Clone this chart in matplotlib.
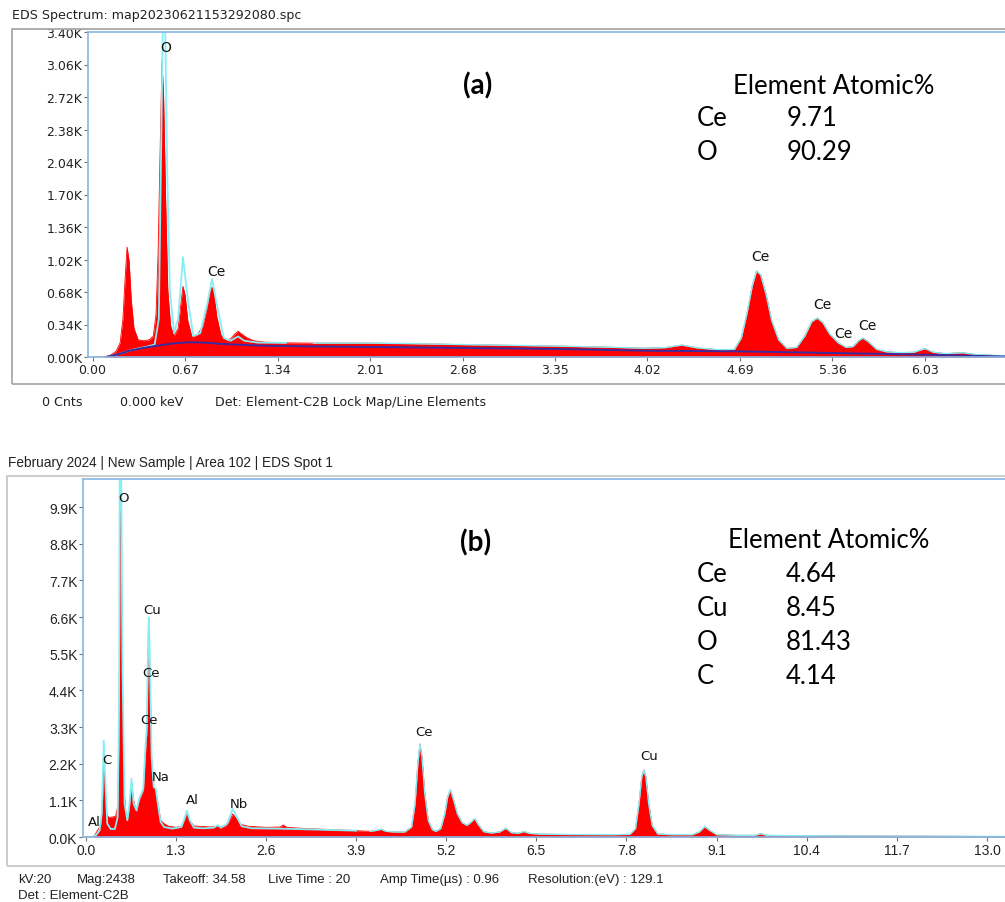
import matplotlib
matplotlib.use('Agg')
import matplotlib.pyplot as plt
from matplotlib.patches import Rectangle

# ---------- (a) spectre EDS : energie (keV) / coups ----------
energie_a = [0.00, 0.08, 0.13, 0.17, 0.20, 0.22, 0.235, 0.25, 0.265, 0.28, 0.30, 0.33,
             0.37, 0.41, 0.44, 0.46, 0.475, 0.49, 0.503, 0.515, 0.53, 0.545, 0.565,
             0.59, 0.62, 0.64, 0.655, 0.67, 0.69, 0.72, 0.76, 0.80, 0.83, 0.85, 0.866,
             0.88, 0.90, 0.93, 0.97, 1.00, 1.03, 1.054, 1.08, 1.12, 1.17, 1.25, 1.40,
             1.60, 1.80, 2.00, 2.30, 2.60, 2.90, 3.20, 3.50, 3.80, 4.00, 4.15, 4.27,
             4.38, 4.55, 4.65, 4.70, 4.74, 4.78, 4.81, 4.84, 4.88, 4.92, 4.97, 5.03,
             5.10, 5.16, 5.21, 5.25, 5.29, 5.34, 5.40, 5.46, 5.51, 5.55, 5.58, 5.62,
             5.68, 5.75, 5.85, 5.95, 6.03, 6.09, 6.18, 6.30, 6.40, 6.61]
coups_a = [0, 0, 20, 60, 150, 400, 800, 1150, 1000, 600, 300, 180,
           170, 180, 220, 450, 1100, 2200, 3100, 2700, 1600, 700, 330,
           220, 300, 560, 740, 650, 380, 210, 230, 330, 520, 700, 730,
           650, 420, 230, 170, 190, 240, 270, 240, 200, 170, 155, 148,
           145, 145, 145, 140, 132, 125, 118, 110, 100, 92, 98, 125,
           95, 75, 80, 200, 450, 750, 900, 860, 650, 380, 180, 90,
           100, 220, 370, 408, 360, 240, 150, 100, 110, 170, 199, 160,
           80, 55, 45, 50, 88, 50, 35, 45, 25, 12]
# ajustement (ligne cyan), partie basse energie
fit_e_a = [0.10, 0.20, 0.30, 0.40, 0.45, 0.48, 0.50, 0.51, 0.525, 0.54, 0.56, 0.59,
           0.62, 0.655, 0.69, 0.73, 0.78, 0.83, 0.866, 0.90, 0.95, 1.00, 1.054,
           1.10, 1.20, 1.40]
fit_c_a = [0, 35, 80, 110, 130, 400, 2500, 3600, 3600, 2000, 700, 250,
           400, 1046, 600, 220, 250, 550, 816, 550, 200, 170, 215,
           170, 150, 148]
# fond continu (ligne bleu fonce)
fond_e_a = [0.10, 0.20, 0.27, 0.35, 0.465, 0.60, 0.706, 0.82, 0.945, 1.235, 1.50,
            2.00, 2.68, 3.35, 4.02, 4.69, 5.36, 6.03, 6.61]
fond_c_a = [0, 35, 66, 90, 118, 145, 155, 150, 136, 118, 112,
            105, 95, 84, 66, 59, 42, 24, 5]
ticks_x_a = [0.00, 0.67, 1.34, 2.01, 2.68, 3.35, 4.02, 4.69, 5.36, 6.03]
ticks_y_a = [0, 340, 680, 1020, 1360, 1700, 2040, 2380, 2720, 3060, 3400]
pics_a = ["O", "Ce", "Ce", "Ce", "Ce", "Ce"]
pics_e_a = [0.53, 0.90, 4.84, 5.29, 5.44, 5.61]
pics_c_a = [3243, 900, 1056, 554, 251, 335]
elements_a = ["Ce", "O"]
atomique_a = ["9.71", "90.29"]

# ---------- (b) spectre EDS ----------
energie_b = [0.00, 0.10, 0.13, 0.17, 0.20, 0.22, 0.24, 0.26, 0.28, 0.30, 0.33, 0.38,
             0.43, 0.46, 0.48, 0.49, 0.50, 0.51, 0.52, 0.54, 0.57, 0.60, 0.63, 0.66,
             0.69, 0.73, 0.77, 0.80, 0.83, 0.86, 0.88, 0.90, 0.91, 0.93, 0.95, 0.98,
             1.01, 1.04, 1.08, 1.13, 1.20, 1.30, 1.38, 1.43, 1.46, 1.50, 1.56, 1.65,
             1.80, 1.90, 2.00, 2.06, 2.12, 2.17, 2.23, 2.35, 2.60, 2.80, 2.85, 2.90,
             3.20, 3.60, 3.90, 4.10, 4.20, 4.26, 4.33, 4.45, 4.60, 4.70, 4.75, 4.79,
             4.82, 4.85, 4.89, 4.94, 5.00, 5.05, 5.12, 5.18, 5.22, 5.26, 5.30, 5.36,
             5.43, 5.50, 5.56, 5.61, 5.66, 5.74, 5.85, 5.97, 6.06, 6.14, 6.24, 6.32,
             6.40, 6.55, 7.00, 7.60, 7.85, 7.93, 7.98, 8.02, 8.05, 8.08, 8.12, 8.17,
             8.25, 8.45, 8.75, 8.85, 8.93, 9.00, 9.10, 9.40, 9.65, 9.74, 9.82, 10.2,
             11.0, 12.0, 13.26]
coups_b = [0, 0, 60, 200, 300, 450, 1000, 2100, 1500, 700, 580, 600,
           620, 900, 3000, 6500, 9800, 8850, 6000, 2000, 800, 540, 900, 1640,
           1100, 740, 1100, 1250, 1390, 2500, 3100, 5500, 6140, 4500, 2300, 1500,
           1390, 1000, 500, 400, 320, 290, 320, 550, 740, 500, 330, 320,
           300, 320, 310, 450, 690, 560, 380, 320, 290, 300, 360, 290,
           250, 220, 190, 170, 200, 233, 170, 150, 150, 300, 1000, 2200,
           2790, 2400, 1300, 500, 220, 170, 250, 700, 1200, 1420, 1150, 700,
           430, 350, 450, 554, 380, 160, 120, 150, 262, 130, 110, 165,
           110, 85, 75, 70, 80, 250, 1000, 1800, 2010, 1800, 1000, 350,
           90, 70, 70, 150, 311, 200, 70, 50, 50, 97, 50, 40,
           30, 25, 15]
fit_e_b = [0.10, 0.15, 0.20, 0.23, 0.26, 0.28, 0.31, 0.36, 0.42, 0.46, 0.48, 0.49,
           0.51, 0.53, 0.56, 0.60, 0.63, 0.66, 0.69, 0.73, 0.77, 0.80, 0.83, 0.86,
           0.88, 0.90, 0.91, 0.93, 0.95, 0.98, 1.01, 1.04, 1.08, 1.13, 1.25, 1.38,
           1.43, 1.46, 1.50, 1.56, 1.70, 1.85, 1.90, 1.95, 2.04, 2.12, 2.18, 2.25,
           2.40, 2.80, 3.20, 3.90]
fit_c_b = [0, 60, 200, 700, 2890, 1800, 400, 240, 240, 600, 4000, 11500,
           11500, 5000, 1000, 500, 1000, 1750, 1000, 800, 1150, 1300, 1450, 2700,
           3300, 6000, 6590, 4800, 2400, 1500, 1450, 1000, 450, 300, 250, 300,
           600, 790, 500, 280, 260, 280, 360, 280, 400, 840, 600, 320,
           260, 250, 230, 190]
ticks_x_b = [0.0, 1.3, 2.6, 3.9, 5.2, 6.5, 7.8, 9.1, 10.4, 11.7, 13.0]
ticks_y_b = [0, 1100, 2200, 3300, 4400, 5500, 6600, 7700, 8800, 9900]
pics_b = ["Al", "C", "O", "Cu", "Ce", "Ce", "Na", "Al", "Nb", "Ce", "Cu"]
pics_e_b = [0.12, 0.31, 0.55, 0.96, 0.94, 0.91, 1.08, 1.53, 2.21, 4.88, 8.12]
pics_c_b = [470, 2310, 10190, 6820, 4940, 3520, 1820, 1110, 1010, 3160, 2460]
elements_b = ["Ce", "Cu", "O", "C"]
atomique_b = ["4.64", "8.45", "81.43", "4.14"]

ROUGE = '#ff0000'
CYAN = '#86eef4'
BLEU = '#3b2a9e'
SPINE = '#86b6e2'

fig = plt.figure(figsize=(10.05, 9.03), dpi=100)
W, H = 1005.0, 903.0


def px(x, y):
    """Conversion pixels image -> fraction figure"""
    return x / W, 1 - y / H


# cadres gris
fig.add_artist(Rectangle(px(12, 385), 1.0, 355 / H, transform=fig.transFigure,
                         fill=False, edgecolor='#a8a8a8', lw=1.3))
fig.add_artist(Rectangle(px(7, 867), 1.0, 390 / H, transform=fig.transFigure,
                         fill=False, edgecolor='#c8c8c8', lw=1.3))


def prepare_axe(ax, xlim, ylim, tx, ty, lx, ly, police, taille):
    ax.set_xlim(*xlim)
    ax.set_ylim(*ylim)
    ax.set_xticks(tx, lx)
    ax.set_yticks(ty, ly)
    for s in ('left', 'top', 'bottom'):
        ax.spines[s].set_color(SPINE)
        ax.spines[s].set_linewidth(1.2)
    ax.spines['right'].set_visible(False)
    ax.tick_params(axis='both', length=3, width=0.8, color='#707070', pad=1,
                   labelsize=taille, labelcolor='#222222')
    for t in ax.get_xticklabels() + ax.get_yticklabels():
        t.set_family(police)


# ---- panneau (a) ----
ax1 = fig.add_axes([88 / W, 1 - 358 / H, 1 - 88 / W, 325 / H])
ax1.fill_between(energie_a, coups_a, color=ROUGE, lw=0)
ax1.plot(energie_a, coups_a, color=ROUGE, lw=0.6)
ax1.plot(fit_e_a, fit_c_a, color=CYAN, lw=1.3)
ax1.plot([e for e in energie_a if e > 1.4], [c for e, c in zip(energie_a, coups_a) if e > 1.4],
         color=CYAN, lw=1.0)
ax1.plot(fond_e_a, fond_c_a, color=BLEU, lw=1.4)
prepare_axe(ax1, (-0.033, 6.61), (0, 3400), ticks_x_a, ticks_y_a,
            ['%.2f' % v for v in ticks_x_a], ['%.2fK' % (v / 1000) for v in ticks_y_a],
            'DejaVu Sans', 9)
for nom, e, c in zip(pics_a, pics_e_a, pics_c_a):
    ax1.text(e, c, nom, ha='center', va='center', fontsize=10, color='#111111')

# ---- panneau (b) ----
ax2 = fig.add_axes([83 / W, 1 - 838 / H, 1 - 83 / W, 358 / H])
ax2.fill_between(energie_b, coups_b, color=ROUGE, lw=0)
ax2.plot(energie_b, coups_b, color=ROUGE, lw=0.6)
ax2.plot(fit_e_b, fit_c_b, color=CYAN, lw=1.3)
ax2.plot([e for e in energie_b if e > 3.9], [c for e, c in zip(energie_b, coups_b) if e > 3.9],
         color=CYAN, lw=1.0)
prepare_axe(ax2, (-0.04, 13.26), (0, 10740), ticks_x_b, ticks_y_b,
            ['%.1f' % v for v in ticks_x_b], ['%.1fK' % (v / 1000) for v in ticks_y_b],
            'Liberation Sans', 10)
for nom, e, c in zip(pics_b, pics_e_b, pics_c_b):
    ax2.text(e, c, nom, ha='center', va='center', fontsize=9.5, color='#111111')

# ---- tableaux de composition ----
grand = dict(fontsize=18.5, family='Lato', color='black', va='center')
titre = dict(fontsize=20, family='Lato', fontweight='bold', color='black', va='center', ha='center')
fig.text(*px(478, 86), "(a)", **titre)
fig.text(*px(834, 86), "Element Atomic%", ha='center', **grand)
for i, (el, val) in enumerate(zip(elements_a, atomique_a)):
    fig.text(*px(697, 118 + 34 * i), el, ha='left', **grand)
    fig.text(*px(787, 118 + 34 * i), val, ha='left', **grand)

fig.text(*px(476, 543), "(b)", **titre)
fig.text(*px(829, 541), "Element Atomic%", ha='center', **grand)
for i, (el, val) in enumerate(zip(elements_b, atomique_b)):
    fig.text(*px(697, 575 + 33.7 * i), el, ha='left', **grand)
    fig.text(*px(786, 575 + 33.7 * i), val, ha='left', **grand)

# ---- textes d'en-tete et de pied ----
petit_a = dict(fontsize=9.1, family='DejaVu Sans', color='#222222', va='center', ha='left')
fig.text(*px(12, 16), "EDS Spectrum: map20230621153292080.spc", **petit_a)
fig.text(*px(42, 403), "0 Cnts", **petit_a)
fig.text(*px(120, 403), "0.000 keV", **petit_a)
fig.text(*px(215, 403), "Det: Element-C2B Lock Map/Line Elements", **petit_a)

petit_b = dict(fontsize=9.5, family='Liberation Sans', color='#222222', va='center', ha='left')
fig.text(*px(8, 463), "February 2024 | New Sample | Area 102 | EDS Spot 1",
         **dict(petit_b, fontsize=9.8))
pied = [("kV:20", 18), ("Mag:2438", 77), ("Takeoff: 34.58", 163), ("Live Time : 20", 268),
        ("Amp Time(\u00b5s) : 0.96", 380), ("Resolution:(eV) : 129.1", 528)]
for txt, x in pied:
    fig.text(*px(x, 880), txt, **petit_b)
fig.text(*px(18, 896), "Det : Element-C2B", **petit_b)

fig.savefig('out.png', dpi=100)
